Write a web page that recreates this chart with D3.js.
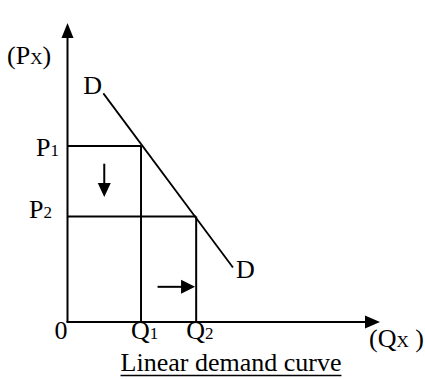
<!DOCTYPE html>
<html><head><meta charset="utf-8">
<script src="https://cdn.jsdelivr.net/npm/d3@7"></script>
<style>html,body{margin:0;padding:0;background:#fff;}svg{display:block;}</style>
</head><body>
<svg id="c" width="425" height="379"></svg>
<script>
// ---- data ----
const quantities = [4, 7];            // Q1, Q2
const quantityLabels = ["Q", "Q"];
const quantitySubs = ["1", "2"];
const prices = [5, 3];                // P1, P2
const priceLabels = ["P", "P"];
const priceSubs = ["1", "2"];
const demandQ = [1.95, 9];
const demandP = [6.5, 1.55];
const demandLabel = "D";
const xMax = 17, yMax = 8.5;
const xAxisLabel = ["(Q", "X", " )"];
const yAxisLabel = ["(P", "X", ")"];
const originLabel = "0";
const title = "Linear demand curve";
// shift arrows: price falls, quantity rises
const priceArrow = {q: 2, from: 4.5, to: 3.55};
const qtyArrow = {p: 1, from: 4.9, to: 6.94};

// ---- drawing ----
const svg = d3.select("#c");
const font = "'Liberation Serif','Times New Roman',serif";
const x = d3.scaleLinear().domain([0, xMax]).range([67.5, 380]);
const y = d3.scaleLinear().domain([0, yMax]).range([322, 23]);
const ink = "#000";

function arrowHead(tip, dir, len, half) {
  const [tx, ty] = tip, [dx, dy] = dir;
  const bx = tx - dx * len, by = ty - dy * len;
  const px = -dy, py = dx;
  return `M${tx},${ty}L${bx + px * half},${by + py * half}L${bx - px * half},${by - py * half}Z`;
}

// axes
svg.append("line").attr("x1", x(0)).attr("y1", y(0)).attr("x2", x(0)).attr("y2", y(yMax) + 14)
  .attr("stroke", ink).attr("stroke-width", 2);
svg.append("path").attr("d", arrowHead([x(0), y(yMax)], [0, -1], 15, 6)).attr("fill", ink);
svg.append("line").attr("x1", x(0) - 1).attr("y1", y(0)).attr("x2", x(xMax) - 14).attr("y2", y(0))
  .attr("stroke", ink).attr("stroke-width", 2);
svg.append("path").attr("d", arrowHead([x(xMax), y(0)], [1, 0], 15, 6.5)).attr("fill", ink);

// rectangles for P1/Q1 and P2/Q2
quantities.forEach((q, i) => {
  const p = prices[i];
  svg.append("line").attr("x1", x(0)).attr("y1", y(p)).attr("x2", x(q)).attr("y2", y(p))
    .attr("stroke", ink).attr("stroke-width", 2);
  svg.append("line").attr("x1", x(q)).attr("y1", y(p)).attr("x2", x(q)).attr("y2", y(0))
    .attr("stroke", ink).attr("stroke-width", 2);
});

// demand line
const demand = demandQ.map((q, i) => [x(q), y(demandP[i])]);
svg.append("path").attr("d", d3.line()(demand)).attr("stroke", ink).attr("stroke-width", 1.8).attr("fill", "none");

// shift arrows
svg.append("line").attr("x1", x(priceArrow.q)).attr("y1", y(priceArrow.from))
  .attr("x2", x(priceArrow.q)).attr("y2", y(priceArrow.to) - 12).attr("stroke", ink).attr("stroke-width", 2);
svg.append("path").attr("d", arrowHead([x(priceArrow.q), y(priceArrow.to)], [0, 1], 14, 6.5)).attr("fill", ink);
svg.append("line").attr("x1", x(qtyArrow.from)).attr("y1", y(qtyArrow.p))
  .attr("x2", x(qtyArrow.to) - 12).attr("y2", y(qtyArrow.p)).attr("stroke", ink).attr("stroke-width", 2);
svg.append("path").attr("d", arrowHead([x(qtyArrow.to), y(qtyArrow.p)], [1, 0], 14, 7)).attr("fill", ink);

// text helper
function label(xp, yp, main, sub, opts = {}) {
  const t = svg.append("text").attr("x", xp).attr("y", yp)
    .attr("font-family", font).attr("font-size", opts.size || 26).attr("fill", ink);
  if (opts.anchor) t.attr("text-anchor", opts.anchor);
  t.append("tspan").text(main);
  if (sub) t.append("tspan").attr("font-size", opts.subSize || 17).text(sub);
  if (opts.tail) t.append("tspan").text(opts.tail);
  return t;
}

// price labels
label(36, y(prices[0]) + 10, priceLabels[0], priceSubs[0]);
label(29, y(prices[1]) + 2, priceLabels[1], priceSubs[1]);
// quantity labels
quantities.forEach((q, i) => label(x(q) - 10, 339, quantityLabels[i], quantitySubs[i]));
label(x(0) - 13, 339, originLabel, null);
// axis labels
label(7, 64, yAxisLabel[0], yAxisLabel[1], {tail: yAxisLabel[2]});
label(369, 347, xAxisLabel[0], xAxisLabel[1], {tail: xAxisLabel[2]});
// demand labels
label(demand[0][0] - 20, demand[0][1] + 1, demandLabel, null);
label(demand[1][0] + 3, demand[1][1] + 11, demandLabel, null);

// title with underline
const tt = svg.append("text").attr("x", 231).attr("y", 371).attr("text-anchor", "middle")
  .attr("font-family", font).attr("font-size", 26).attr("fill", ink).text(title);
const bb = tt.node().getBBox();
svg.append("line").attr("x1", bb.x).attr("x2", bb.x + bb.width).attr("y1", 375.5).attr("y2", 375.5)
  .attr("stroke", ink).attr("stroke-width", 1.5);
</script>
</body></html>
